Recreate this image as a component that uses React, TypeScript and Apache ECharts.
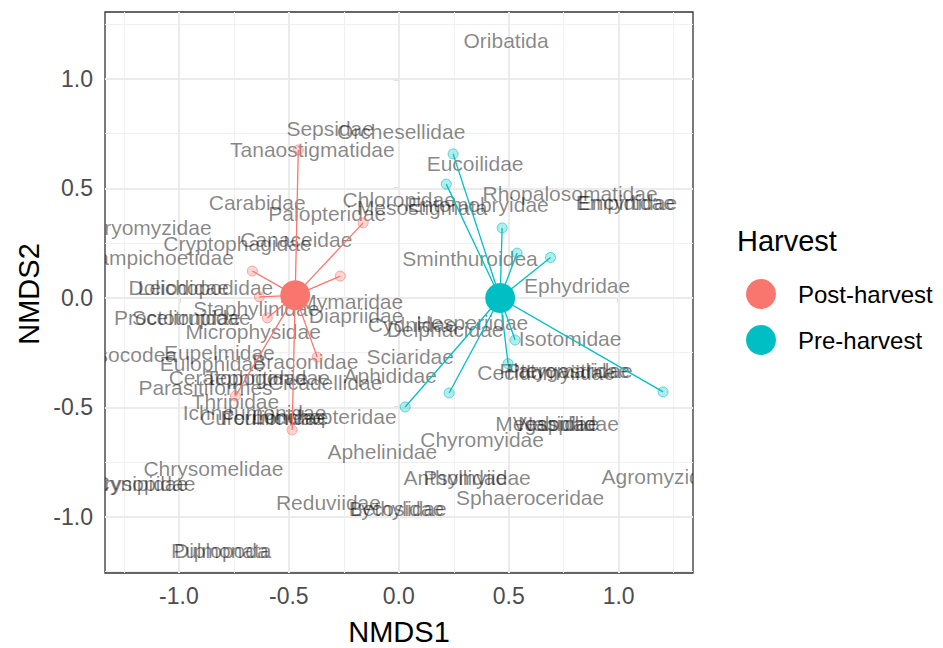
import React, { useEffect, useRef } from "react";
import * as echarts from "echarts";

// Sample (site) scores per harvest group
const postX = [-0.457, -0.162, -0.266, -0.666, -0.634, -0.598, -0.743, -0.485, -0.371];
const postY = [0.676, 0.343, 0.1, 0.123, 0.005, -0.091, -0.448, -0.603, -0.27];
const preX = [0.247, 0.216, 0.47, 0.538, 0.69, 0.529, 0.497, 1.202, 0.229, 0.029];
const preY = [0.658, 0.52, 0.32, 0.205, 0.185, -0.192, -0.3, -0.429, -0.434, -0.498];
const centroidPost = [-0.471, 0.012];
const centroidPre = [0.461, 0.0];
const groupNames = ["Post-harvest", "Pre-harvest"];

// Species scores (labels)
const speciesNames = [
  "Oribatida", "Sepsidae", "Orchesellidae", "Tanaostigmatidae", "Eucoilidae",
  "Carabidae", "Palopteridae", "Chloropidae", "Mesostigmata", "Entomobryidae",
  "Rhopalosomatidae", "Empididae", "Encyrtidae", "Dryomyzidae", "Cryptophagidae",
  "Canaceidae", "Campichoetidae", "Dolichopodidae", "Leiodidae", "Staphylinidae",
  "Mymaridae", "Diapriidae", "Proctotrupidae", "Scelionidae", "Microphysidae",
  "Psocodea", "Eupelmidae", "Eulophidae", "Braconidae", "Sciaridae",
  "Aphididae", "Cicadellidae", "Ceratopogonidae", "Tephritidae", "Parasitiformes",
  "Thripidae", "Ichneumonidae", "Curculionidae", "Formicidae", "Lonchopteridae",
  "Aphelinidae", "Chyromyidae", "Megaspilidae", "Nabidae", "Vespidae",
  "Anthomyiidae", "Psyllidae", "Sphaeroceridae", "Agromyzidae", "Chrysomelidae",
  "Chrysopidae", "Cynipidae", "Reduviidae", "Lycosidae", "Bethylidae",
  "Diplopoda", "Pulmonata", "Sminthuroidea", "Ephydridae", "Hesperiidae",
  "Delphacidae", "Cydnidae", "Isotomidae", "Cecidomyiidae", "Platygastridae",
  "Pteromalidae",
];
const speciesX = [
  0.488, -0.312, 0.011, -0.393, 0.347,
  -0.644, -0.325, 0.002, 0.106, 0.361,
  0.779, 1.03, 1.04, -1.13, -0.734,
  -0.466, -1.095, -0.9, -0.98, -0.648,
  -0.216, -0.194, -0.984, -0.966, -0.662,
  -1.221, -0.816, -0.848, -0.425, 0.052,
  -0.039, -0.335, -0.68, -0.648, -0.879,
  -0.743, -0.656, -0.612, -0.575, -0.339,
  -0.075, 0.379, 0.72, 0.72, 0.715,
  0.311, 0.302, 0.597, 1.201, -0.843,
  -1.193, -1.17, -0.32, -0.007, -0.005,
  -0.807, -0.807, 0.324, 0.811, 0.334,
  0.211, 0.061, 0.779, 0.67, 0.761,
  0.77,
];
const speciesY = [
  1.178, 0.772, 0.758, 0.676, 0.616,
  0.434, 0.388, 0.452, 0.411, 0.429,
  0.479, 0.438, 0.434, 0.32, 0.251,
  0.269, 0.187, 0.05, 0.05, -0.046,
  -0.018, -0.078, -0.091, -0.091, -0.155,
  -0.26, -0.247, -0.297, -0.292, -0.269,
  -0.352, -0.388, -0.365, -0.365, -0.411,
  -0.475, -0.525, -0.548, -0.548, -0.543,
  -0.703, -0.648, -0.575, -0.575, -0.575,
  -0.822, -0.822, -0.909, -0.817, -0.781,
  -0.845, -0.845, -0.932, -0.963, -0.963,
  -1.155, -1.155, 0.178, 0.055, -0.114,
  -0.146, -0.123, -0.183, -0.342, -0.329,
  -0.329,
];

const tickValues = [-1, -0.5, 0, 0.5, 1];
const minorValues = [-1.25, -0.75, -0.25, 0.25, 0.75, 1.25];
const xRange = [-1.336, 1.338];
const yRange = [-1.256, 1.306];

const FONT = '"Liberation Sans", Arial, Helvetica, sans-serif';
const RED = "#F8766D";
const TEAL = "#00BFC4";

export default function App() {
  const ref = useRef<HTMLDivElement>(null);

  useEffect(() => {
    if (!ref.current) return;
    const chart = echarts.init(ref.current, undefined, { renderer: "svg" });

    const vGrid = (vals: number[]) =>
      vals.map((v) => ({ coords: [[v, yRange[0]], [v, yRange[1]]] }));
    const hGrid = (vals: number[]) =>
      vals.map((v) => ({ coords: [[xRange[0], v], [xRange[1], v]] }));

    const spider = (cx: number, cy: number, xs: number[], ys: number[]) =>
      xs.map((x, i) => ({ coords: [[cx, cy], [x, ys[i]]] }));

    const option: any = {
      animation: false,
      backgroundColor: "#ffffff",
      grid: {
        left: 105,
        top: 12,
        width: 588,
        height: 561,
        show: true,
        backgroundColor: "#ffffff",
        borderColor: "#333333",
        borderWidth: 1.3,
        containLabel: false,
      },
      xAxis: {
        type: "value",
        min: xRange[0],
        max: xRange[1],
        axisLine: { show: false },
        splitLine: { show: false },
        axisTick: {
          show: true,
          length: 5,
          customValues: tickValues,
          lineStyle: { color: "#333333", width: 1.3 },
        },
        axisLabel: {
          customValues: tickValues,
          margin: 11,
          color: "#4D4D4D",
          fontSize: 23,
          fontFamily: FONT,
          formatter: (v: number) => v.toFixed(1),
        },
      },
      yAxis: {
        type: "value",
        min: yRange[0],
        max: yRange[1],
        axisLine: { show: false },
        splitLine: { show: false },
        axisTick: {
          show: true,
          length: 5,
          customValues: tickValues,
          lineStyle: { color: "#333333", width: 1.3 },
        },
        axisLabel: {
          customValues: tickValues,
          margin: 12,
          color: "#4D4D4D",
          fontSize: 23,
          fontFamily: FONT,
          formatter: (v: number) => v.toFixed(1),
        },
      },
      legend: {
        orient: "vertical",
        left: 741,
        top: 274,
        itemWidth: 64,
        itemHeight: 30,
        itemGap: 16,
        icon: "circle",
        data: groupNames,
        textStyle: { fontSize: 24, color: "#000000", fontFamily: FONT },
      },
      graphic: [
        {
          type: "text",
          left: 737,
          top: 226,
          style: { text: "Harvest", fill: "#000", font: `29px ${FONT}` },
        },
        {
          type: "text",
          x: 399,
          y: 632,
          style: {
            text: "NMDS1",
            fill: "#000",
            font: `29px ${FONT}`,
            align: "center",
            verticalAlign: "middle",
            textAlign: "center",
            textVerticalAlign: "middle",
          },
        },
        {
          type: "text",
          x: 29,
          y: 294,
          rotation: Math.PI / 2,
          style: {
            text: "NMDS2",
            fill: "#000",
            font: `29px ${FONT}`,
            align: "center",
            verticalAlign: "middle",
            textAlign: "center",
            textVerticalAlign: "middle",
          },
        },
      ],
      series: [
        {
          type: "lines",
          coordinateSystem: "cartesian2d",
          silent: true,
          z: 1,
          lineStyle: { color: "#F0F0F0", width: 1, opacity: 1 },
          data: [...vGrid(minorValues), ...hGrid(minorValues)],
        },
        {
          type: "lines",
          coordinateSystem: "cartesian2d",
          silent: true,
          z: 1,
          lineStyle: { color: "#EBEBEB", width: 2, opacity: 1 },
          data: [...vGrid(tickValues), ...hGrid(tickValues)],
        },
        {
          type: "custom",
          coordinateSystem: "cartesian2d",
          clip: true,
          silent: true,
          z: 2,
          data: speciesNames.map((n, i) => [speciesX[i], speciesY[i]]),
          encode: { x: 0, y: 1 },
          renderItem: (params: any, api: any) => {
            const p = api.coord([api.value(0), api.value(1)]);
            return {
              type: "text",
              x: p[0],
              y: p[1],
              style: {
                text: speciesNames[params.dataIndex],
                fill: "rgba(0,0,0,0.48)",
                font: `21px ${FONT}`,
                align: "center",
                verticalAlign: "middle",
                textAlign: "center",
                textVerticalAlign: "middle",
              },
            };
          },
        },
        {
          type: "lines",
          coordinateSystem: "cartesian2d",
          silent: true,
          z: 3,
          lineStyle: { color: RED, width: 1.3, opacity: 1 },
          data: spider(centroidPost[0], centroidPost[1], postX, postY),
        },
        {
          type: "lines",
          coordinateSystem: "cartesian2d",
          silent: true,
          z: 3,
          lineStyle: { color: TEAL, width: 1.3, opacity: 1 },
          data: spider(centroidPre[0], centroidPre[1], preX, preY),
        },
        {
          type: "scatter",
          silent: true,
          z: 4,
          symbolSize: 10,
          itemStyle: {
            color: "rgba(248,118,109,0.3)",
            borderColor: "rgba(248,118,109,0.6)",
            borderWidth: 1,
            opacity: 1,
          },
          data: postX.map((x, i) => [x, postY[i]]),
        },
        {
          type: "scatter",
          silent: true,
          z: 4,
          symbolSize: 10,
          itemStyle: {
            color: "rgba(0,191,196,0.3)",
            borderColor: "rgba(0,191,196,0.6)",
            borderWidth: 1,
            opacity: 1,
          },
          data: preX.map((x, i) => [x, preY[i]]),
        },
        {
          name: groupNames[0],
          type: "scatter",
          silent: true,
          z: 5,
          symbolSize: 30,
          itemStyle: { color: RED, opacity: 1 },
          data: [centroidPost],
        },
        {
          name: groupNames[1],
          type: "scatter",
          silent: true,
          z: 5,
          symbolSize: 30,
          itemStyle: { color: TEAL, opacity: 1 },
          data: [centroidPre],
        },
      ],
    };

    chart.setOption(option);
    return () => chart.dispose();
  }, []);

  return (
    <div
      ref={ref}
      style={{ position: "fixed", left: 0, top: 0, width: 943, height: 648, background: "#fff" }}
    />
  );
}
